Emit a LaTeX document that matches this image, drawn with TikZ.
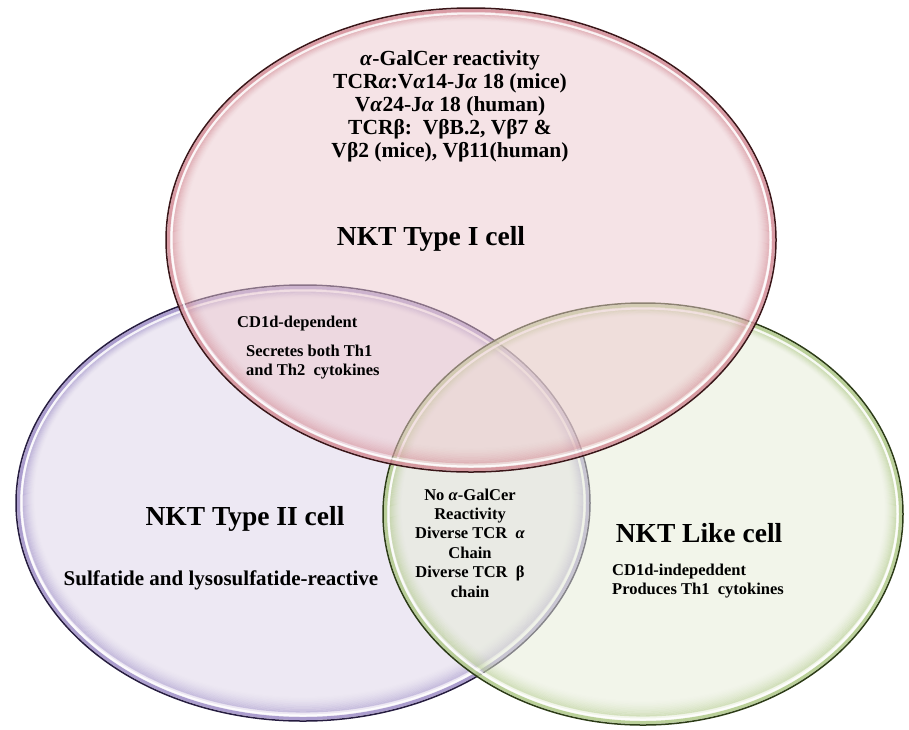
\documentclass[tikz,border=0pt]{standalone}
\usepackage{fontspec}
\setmainfont{Liberation Serif}

\definecolor{redfill}{HTML}{EDC9CE}
\definecolor{redrim}{HTML}{D0848E}
\definecolor{redline}{HTML}{3A1518}
\definecolor{purfill}{HTML}{DDD3E8}
\definecolor{purrim}{HTML}{9585C2}
\definecolor{purline}{HTML}{261C40}
\definecolor{grnfill}{HTML}{E6EDD6}
\definecolor{grnrim}{HTML}{A8C47E}
\definecolor{grnline}{HTML}{2C3C16}

% one translucent set: centre x, centre y, x radius, y radius, fill, rim, outline
\newcommand{\vennset}[7]{%
  \fill[#5, fill opacity=0.5] (#1,#2) ellipse [x radius=#3pt, y radius=#4pt];
  % soft inner glow, a little heavier towards the bottom
  \foreach \k in {7,...,18}{
    \pgfmathsetmacro\ra{#3-\k}
    \pgfmathsetmacro\rb{#4-\k}
    \pgfmathsetmacro\cy{#2-0.3*\k}
    \pgfmathsetmacro\op{0.4*(1-(\k-7)/12)^1.6}
    \draw[#6, line width=1.3pt, draw opacity=\op]
      (#1,\cy) ellipse [x radius=\ra pt, y radius=\rb pt];
  }
  % coloured band, highlight and outline
  \draw[#6, line width=3pt, draw opacity=0.75]
    (#1,#2) ellipse [x radius=#3pt-2.5pt, y radius=#4pt-2.5pt];
  \draw[white, line width=2pt, draw opacity=0.85]
    (#1,#2) ellipse [x radius=#3pt-5.5pt, y radius=#4pt-5.5pt];
  \draw[#7, line width=1.5pt] (#1,#2) ellipse [x radius=#3pt, y radius=#4pt];
}

\tikzset{
  every node/.style={inner sep=0pt},
  title/.style={font=\bfseries\fontsize{27.5}{30}\selectfont, anchor=base},
  note/.style={font=\bfseries\fontsize{16.5}{19.4}\selectfont},
  topnote/.style={font=\bfseries\fontsize{21.5}{23}\selectfont, align=center},
}

\begin{document}
\begin{tikzpicture}[x=1pt, y=-1pt]
  \fill[white] (0,0) rectangle (909,729);
  \useasboundingbox (0,0) rectangle (909,729);

  % the three sets
  \vennset{303}{503}{287}{218}{purfill}{purrim}{purline}
  \vennset{643}{514}{260}{211}{grnfill}{grnrim}{grnline}
  \vennset{471}{240}{305}{232}{redfill}{redrim}{redline}

  % NKT type I
  \node[topnote, anchor=north] (typeIinfo) at (450,50)
    {\textit{α}-GalCer reactivity\\
     TCR\textit{α}:V\textit{α}14-J\textit{α} 18 (mice)\\
     V\textit{α}24-J\textit{α} 18 (human)\\
     TCRβ:~~VβB.2, Vβ7 \&\\
     Vβ2 (mice), Vβ11(human)};
  \node[title] (typeI) at (431,245) {NKT Type I cell};

  % shared by type I and type II
  \node[note, anchor=base west] (cd1d) at (237,327) {CD1d-dependent};
  \node[note, anchor=north west, align=left] (th12) at (246,344.5)
    {Secretes both Th1\\and Th2~~cytokines};

  % NKT type II
  \node[title] (typeII) at (245,525) {NKT Type II cell};
  \node[font=\bfseries\fontsize{21}{24}\selectfont, anchor=base] (sulf) at (221,585)
    {Sulfatide and lysosulfatide-reactive};

  % shared by type II and NKT-like
  \node[note, anchor=north, align=center] (shared) at (470,488.5)
    {No \textit{α}-GalCer\\Reactivity\\Diverse TCR~~\textit{α}\\Chain\\Diverse TCR~~β\\chain};

  % NKT-like
  \node[title] (like) at (699,542) {NKT Like cell};
  \node[note, anchor=north west, align=left] (likeinfo) at (612,563.5)
    {CD1d-indepeddent\\Produces Th1~~cytokines};
\end{tikzpicture}
\end{document}
